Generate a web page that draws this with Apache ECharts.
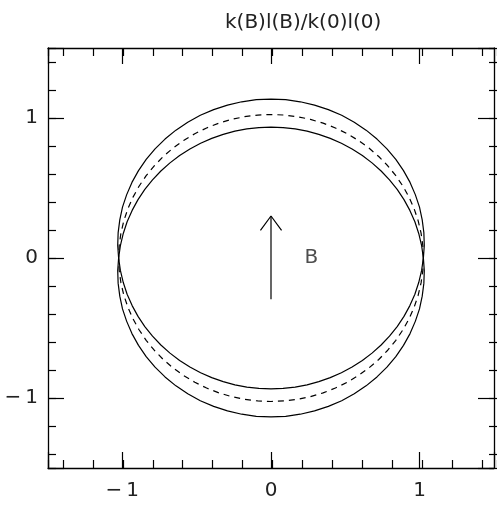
<!DOCTYPE html>
<html>
<head>
<meta charset="utf-8">
<script src="https://cdn.jsdelivr.net/npm/echarts@6/dist/echarts.min.js"></script>
<style>
  html, body { margin: 0; padding: 0; background: #fff; }
  #chart { width: 497px; height: 510px; }
</style>
</head>
<body>
<div id="chart"></div>
<script>
// polar angle (deg) and radius of the three curves
const angles = [0, 5, 10, 15, 20, 25, 30, 35, 40, 45, 50, 55, 60, 65, 70, 75, 80, 85, 90,
                95, 100, 105, 110, 115, 120, 125, 130, 135, 140, 145, 150, 155, 160, 165, 170, 175, 180,
                185, 190, 195, 200, 205, 210, 215, 220, 225, 230, 235, 240, 245, 250, 255, 260, 265, 270,
                275, 280, 285, 290, 295, 300, 305, 310, 315, 320, 325, 330, 335, 340, 345, 350, 355, 360];
const rOuter = [1.025, 1.035, 1.044, 1.053, 1.063, 1.071, 1.080, 1.088, 1.096, 1.103, 1.109, 1.115, 1.120, 1.125, 1.128, 1.131, 1.133, 1.135, 1.135,
                1.135, 1.133, 1.131, 1.128, 1.125, 1.120, 1.115, 1.109, 1.103, 1.096, 1.088, 1.080, 1.071, 1.063, 1.053, 1.044, 1.035, 1.025,
                1.035, 1.044, 1.053, 1.063, 1.071, 1.080, 1.088, 1.096, 1.103, 1.109, 1.115, 1.120, 1.125, 1.128, 1.131, 1.133, 1.135, 1.135,
                1.135, 1.133, 1.131, 1.128, 1.125, 1.120, 1.115, 1.109, 1.103, 1.096, 1.088, 1.080, 1.071, 1.063, 1.053, 1.044, 1.035, 1.025];
const rInner = [1.025, 1.017, 1.009, 1.002, 0.994, 0.987, 0.980, 0.973, 0.967, 0.961, 0.956, 0.951, 0.947, 0.943, 0.940, 0.938, 0.936, 0.935, 0.935,
                0.935, 0.936, 0.938, 0.940, 0.943, 0.947, 0.951, 0.956, 0.961, 0.967, 0.973, 0.980, 0.987, 0.994, 1.002, 1.009, 1.017, 1.025,
                1.017, 1.009, 1.002, 0.994, 0.987, 0.980, 0.973, 0.967, 0.961, 0.956, 0.951, 0.947, 0.943, 0.940, 0.938, 0.936, 0.935, 0.935,
                0.935, 0.936, 0.938, 0.940, 0.943, 0.947, 0.951, 0.956, 0.961, 0.967, 0.973, 0.980, 0.987, 0.994, 1.002, 1.009, 1.017, 1.025];
const rMid = angles.map(() => 1.025); // dashed curve: constant radius

// arrow for B
const arrowShaft = [[0, -0.295], [0, 0.30]];
const arrowHead  = [[-0.071, 0.197], [0, 0.30], [0.071, 0.197]];
const fieldLabel = [[0.272, 0]];

const tickValues = [-1, 0, 1];
const tickLabels = ['\u2212\u20091', '0', '1'];
const titleText = 'k(B)l(B)/k(0)l(0)';

const FONT = 'DejaVu Sans';
const INK = '#000';

function toXY(r) {
  return angles.map((a, i) => [r[i] * Math.cos(a * Math.PI / 180), r[i] * Math.sin(a * Math.PI / 180)]);
}

function fmt(v) {
  const i = tickValues.findIndex(t => Math.abs(t - v) < 1e-9);
  return i < 0 ? '' : tickLabels[i];
}

// major axes: splitNumber 3 -> step 1 ; minor axes: splitNumber 15 -> step 0.2
function makeAxis(pos, grid, major) {
  const labelled = major && (pos === 'bottom' || pos === 'left');
  return {
    type: 'value',
    gridIndex: grid,
    position: pos,
    min: -1.5,
    max: 1.5,
    splitNumber: major ? 3 : 15,
    axisLine: { show: major, onZero: false, lineStyle: { color: INK, width: 1.3 } },
    axisTick: { show: true, inside: true, length: major ? 16 : 8, lineStyle: { color: INK, width: 1.2 } },
    minorTick: { show: false },
    splitLine: { show: false },
    axisLabel: {
      show: labelled,
      formatter: fmt,
      fontFamily: FONT,
      fontSize: 20,
      color: '#222',
      margin: pos === 'bottom' ? 13 : 10,
      showMinLabel: true,
      showMaxLabel: true
    }
  };
}

const rect = { left: 48, top: 48, width: 450, height: 420 };

const chart = echarts.init(document.getElementById('chart'), null, { renderer: 'canvas' });

const curve = (r, type) => ({
  type: 'line',
  xAxisIndex: 0,
  yAxisIndex: 0,
  data: toXY(r),
  smooth: false,
  symbol: 'none',
  silent: true,
  lineStyle: { color: INK, width: 1.2, type: type }
});

chart.setOption({
  animation: false,
  backgroundColor: '#fff',
  title: {
    text: titleText,
    left: 220,
    top: 8,
    textStyle: { fontFamily: FONT, fontSize: 20, fontWeight: 'normal', color: '#222' }
  },
  grid: [
    Object.assign({}, rect, { containLabel: false }),
    Object.assign({}, rect, { containLabel: false })
  ],
  xAxis: [
    makeAxis('bottom', 0, true),
    makeAxis('top', 0, true),
    makeAxis('bottom', 1, false),
    makeAxis('top', 1, false)
  ],
  yAxis: [
    makeAxis('left', 0, true),
    makeAxis('right', 0, true),
    makeAxis('left', 1, false),
    makeAxis('right', 1, false)
  ],
  series: [
    curve(rOuter, 'solid'),
    curve(rInner, 'solid'),
    curve(rMid, [6, 5]),
    {
      type: 'line', xAxisIndex: 0, yAxisIndex: 0, data: arrowShaft,
      symbol: 'none', silent: true, lineStyle: { color: INK, width: 1.2 }
    },
    {
      type: 'line', xAxisIndex: 0, yAxisIndex: 0, data: arrowHead,
      symbol: 'none', silent: true, lineStyle: { color: INK, width: 1.2 }
    },
    {
      type: 'scatter', xAxisIndex: 0, yAxisIndex: 0, data: fieldLabel,
      symbolSize: 0, silent: true,
      label: {
        show: true, position: 'inside', formatter: 'B',
        fontFamily: FONT, fontSize: 20, color: '#222'
      }
    }
  ]
});
</script>
</body>
</html>
